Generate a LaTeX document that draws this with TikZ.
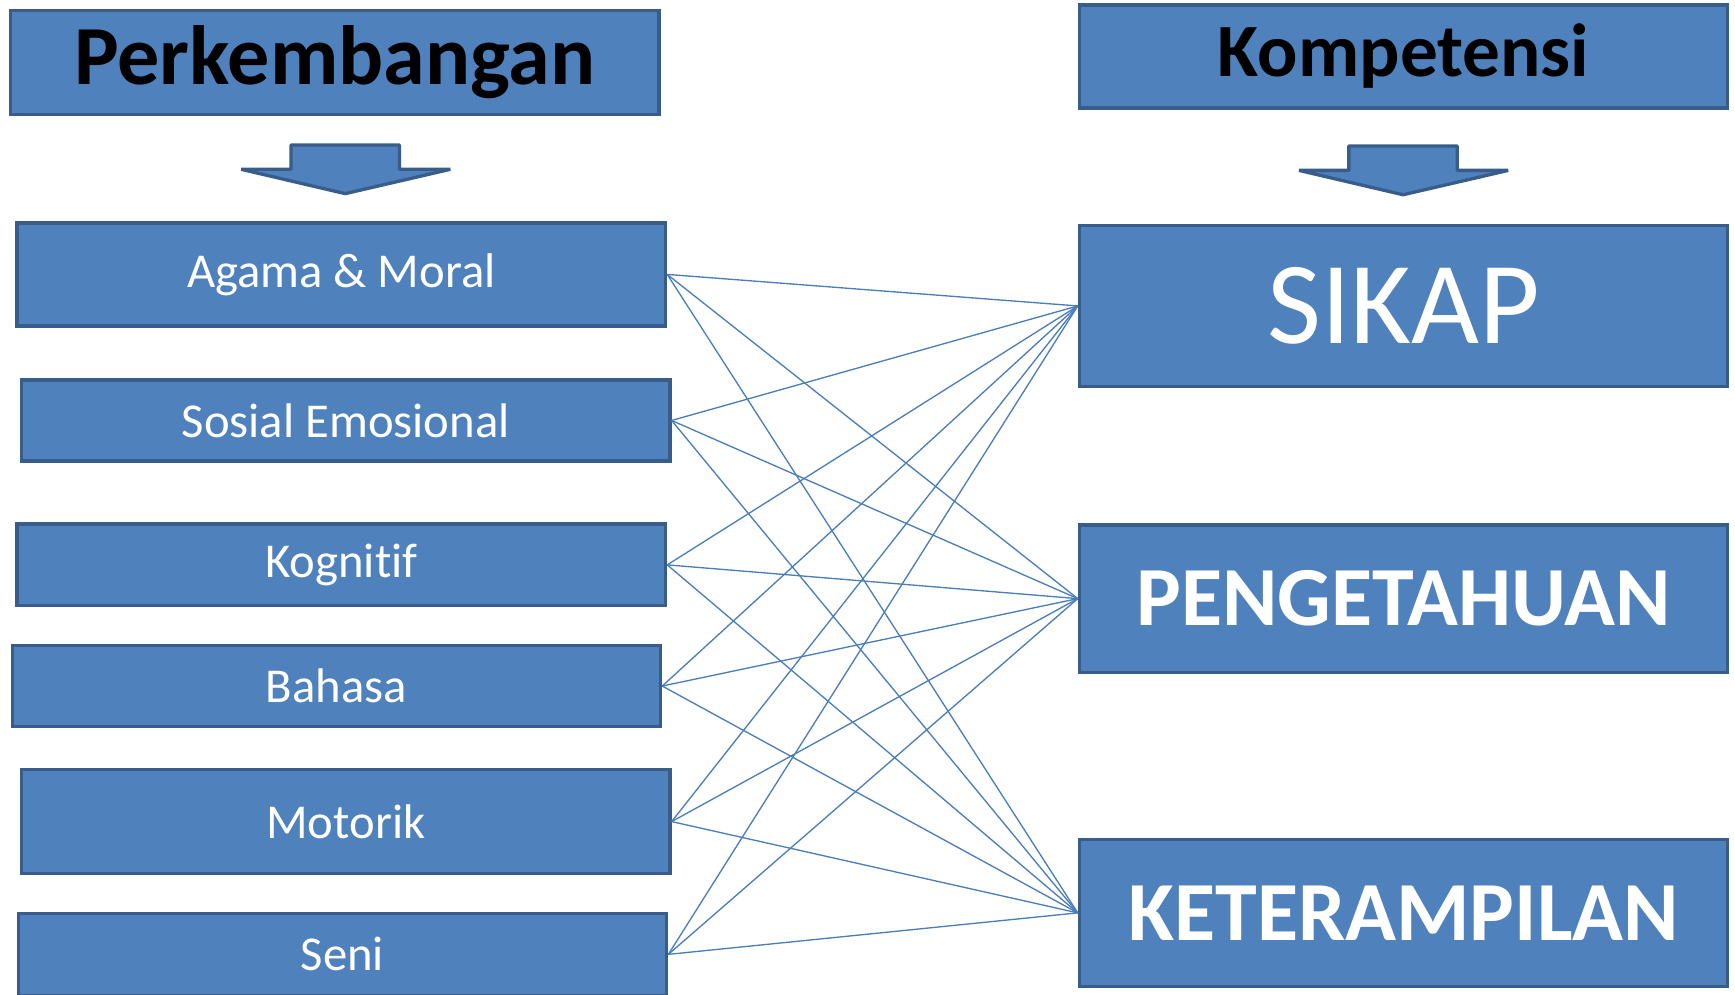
\documentclass[tikz,border=0pt]{standalone}
\usepackage{fontspec}
\setmainfont{Carlito}[Ligatures=NoCommon]
\definecolor{boxfill}{HTML}{4F81BD}
\definecolor{boxline}{HTML}{385D8A}
\definecolor{linkcol}{HTML}{4A7EBB}
\begin{document}
\begin{tikzpicture}[x=1pt,y=1pt,
  box/.style={draw=boxline,fill=boxfill,line width=3pt,minimum width=586pt,text=white,inner sep=0pt},
  small/.style={font=\fontsize{44}{50}\selectfont},
  head/.style={font=\bfseries\fontsize{76}{80}\selectfont,text=black},
  big/.style={font=\bfseries\fontsize{76}{80}\selectfont},
  downarrow/.style={draw=boxline,fill=boxfill,line width=3pt,line join=bevel},
  link/.style={draw=linkcol,line width=1.2pt}]
\useasboundingbox (0,0) rectangle (1568,-899);

\node[box,head,minimum height=94pt] (perkembangan) at (302.5,-56.5) {Perkembangan};
\node[box,head,minimum height=93pt,font=\bfseries\fontsize{68}{72}\selectfont] (kompetensi) at (1268.5,-51) {Kompetensi};

\draw[downarrow] (263,-131) -- (361,-131) -- (361,-153) -- (407,-153) -- (312,-175) -- (218,-153) -- (263,-153) -- cycle;
\draw[downarrow] (1219,-132) -- (1317,-132) -- (1317,-154) -- (1363,-154) -- (1268,-176) -- (1174,-154) -- (1219,-154) -- cycle;

\node[box,small,minimum height=93pt] (agama) at (308.5,-248) {Agama \& Moral};
\node[box,small,minimum height=73pt] (sosial) at (312.5,-380) {Sosial Emosional};
\node[box,small,minimum height=74pt] (kognitif) at (308.5,-510.5) {Kognit\kern0pt if};
\node[box,small,minimum height=73pt] (bahasa) at (304,-620) {Bahasa};
\node[box,small,minimum height=94pt] (motorik) at (312.5,-742.5) {Motorik};
\node[box,small,minimum height=74pt] (seni) at (309.5,-862.5) {Seni};

\node[box,minimum height=146pt,font=\fontsize{106}{110}\selectfont] (sikap) at (1268.5,-276.5) {SIKAP};
\node[box,big,minimum height=133pt] (pengetahuan) at (1268.5,-541) {PENGETAHUAN};
\node[box,big,minimum height=133pt] (keterampilan) at (1268.5,-825) {KETERAMPILAN};

\foreach \a in {agama,sosial,kognitif,bahasa,motorik,seni}
  \foreach \b in {sikap,pengetahuan,keterampilan}
    \draw[link] (\a.east) -- (\b.west);

\end{tikzpicture}
\end{document}
